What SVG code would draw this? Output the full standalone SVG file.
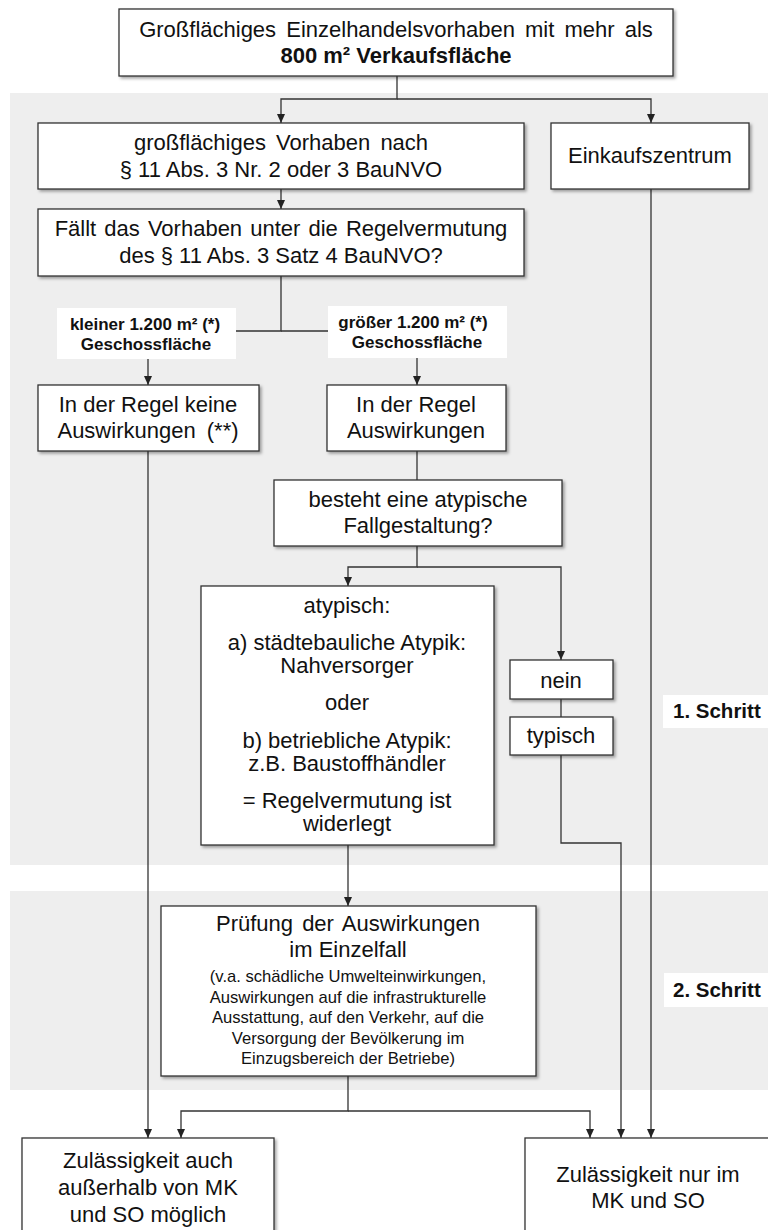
<svg xmlns="http://www.w3.org/2000/svg" width="768" height="1230" viewBox="0 0 768 1230">
<style>
.bg{fill:#eeeeee}
.box{fill:#fff;stroke:#333;stroke-width:1.3;filter:url(#sh)}
.lab{fill:#fff;stroke:none}
.t{font-family:"Liberation Sans",Arial,sans-serif;font-size:22px;fill:#111;text-anchor:middle}
.b{font-weight:bold}
.s{font-size:16.6px}
.l{font-size:17px;font-weight:bold}
.st{font-family:"Liberation Sans",Arial,sans-serif;font-size:20.5px;font-weight:bold;fill:#111}
.c{fill:none;stroke:#333;stroke-width:1.3}
.a{marker-end:url(#ah)}
</style>
<defs>
<marker id="ah" viewBox="0 0 9 8" markerWidth="9" markerHeight="8" refX="9" refY="4" orient="auto" markerUnits="userSpaceOnUse">
<path d="M0,0 L9,4 L0,8 z" fill="#222"/>
</marker>
<filter id="sh" x="-5%" y="-5%" width="115%" height="130%">
<feDropShadow dx="2" dy="2" stdDeviation="1.5" flood-color="#000" flood-opacity="0.35"/>
</filter>
</defs>
<rect width="768" height="1230" fill="#fff"/>
<g id="bands">
<rect class="bg" x="10" y="93" width="758" height="772"/>
<rect class="bg" x="10" y="891" width="758" height="199"/>
</g>
<g id="connectors">
<path class="c a" d="M397,76 V99 H281 V123"/>
<path class="c a" d="M397,99 H651 V123"/>
<path class="c a" d="M281,189 V209"/>
<path class="c a" d="M281,276 V331 H148 V385"/>
<path class="c a" d="M281,331 H417 V385"/>
<path class="c a" d="M148,451 V1138"/>
<path class="c" d="M417,451 V480"/>
<path class="c a" d="M417,546 V567 H348 V586"/>
<path class="c a" d="M417,567 H561 V660"/>
<path class="c" d="M561,699 V717"/>
<path class="c a" d="M561,755 V843 H621 V1138"/>
<path class="c a" d="M348,845 V906"/>
<path class="c a" d="M348,1076 V1111 H181 V1138"/>
<path class="c a" d="M348,1111 H590 V1138"/>
<path class="c a" d="M651,189 V1138"/>
</g>
<g id="n-top">
<rect class="box" x="119" y="9" width="554" height="67"/>
<text class="t" x="396" y="37" word-spacing="4">Großflächiges Einzelhandelsvorhaben mit mehr als</text>
<text class="t b" x="396" y="63">800 m² Verkaufsfläche</text>
</g>
<g id="n-grossflaechig">
<rect class="box" x="38" y="123" width="486" height="66"/>
<text class="t" x="281" y="150" word-spacing="4">großflächiges Vorhaben nach</text>
<text class="t" x="281" y="177">§ 11 Abs. 3 Nr. 2 oder 3 BauNVO</text>
</g>
<g id="n-ekz">
<rect class="box" x="551" y="123" width="198" height="66"/>
<text class="t" x="650" y="163">Einkaufszentrum</text>
</g>
<g id="n-faellt">
<rect class="box" x="38" y="209" width="486" height="67"/>
<text class="t" x="281" y="236" word-spacing="2">Fällt das Vorhaben unter die Regelvermutung</text>
<text class="t" x="281" y="263">des § 11 Abs. 3 Satz 4 BauNVO?</text>
</g>
<g id="l-kleiner">
<rect class="lab" x="57" y="308" width="179" height="51"/>
<text class="t l" x="145" y="330">kleiner 1.200 m² (*)</text>
<text class="t l" x="146" y="350">Geschossfläche</text>
</g>
<g id="l-groesser">
<rect class="lab" x="328" y="306" width="179" height="52"/>
<text class="t l" x="413" y="328">größer 1.200 m² (*)</text>
<text class="t l" x="417" y="348">Geschossfläche</text>
</g>
<g id="n-keine">
<rect class="box" x="38" y="385" width="221" height="66"/>
<text class="t" x="148" y="412">In der Regel keine</text>
<text class="t" x="148" y="438" word-spacing="5">Auswirkungen (**)</text>
</g>
<g id="n-auswirkungen">
<rect class="box" x="327" y="385" width="179" height="66"/>
<text class="t" x="416" y="412">In der Regel</text>
<text class="t" x="416" y="438">Auswirkungen</text>
</g>
<g id="n-besteht">
<rect class="box" x="274" y="480" width="288" height="66"/>
<text class="t" x="418" y="507">besteht eine atypische</text>
<text class="t" x="418" y="533">Fallgestaltung?</text>
</g>
<g id="n-atypisch">
<rect class="box" x="201" y="586" width="293" height="259"/>
<text class="t" x="347" y="613">atypisch:</text>
<text class="t" x="347" y="650">a) städtebauliche Atypik:</text>
<text class="t" x="347" y="673">Nahversorger</text>
<text class="t" x="347" y="710">oder</text>
<text class="t" x="347" y="748">b) betriebliche Atypik:</text>
<text class="t" x="347" y="771">z.B. Baustoffhändler</text>
<text class="t" x="347" y="808">= Regelvermutung ist</text>
<text class="t" x="347" y="831">widerlegt</text>
</g>
<g id="n-nein">
<rect class="box" x="510" y="660" width="103" height="39"/>
<text class="t" x="561" y="688">nein</text>
</g>
<g id="n-typisch">
<rect class="box" x="510" y="717" width="103" height="38"/>
<text class="t" x="561" y="743">typisch</text>
</g>
<g id="n-pruefung">
<rect class="box" x="161" y="906" width="375" height="170"/>
<text class="t" x="348" y="931" word-spacing="3">Prüfung der Auswirkungen</text>
<text class="t" x="348" y="957">im Einzelfall</text>
<text class="t s" x="348" y="982">(v.a. schädliche Umwelteinwirkungen,</text>
<text class="t s" x="348" y="1002.5">Auswirkungen auf die infrastrukturelle</text>
<text class="t s" x="348" y="1023">Ausstattung, auf den Verkehr, auf die</text>
<text class="t s" x="348" y="1043.5">Versorgung der Bevölkerung im</text>
<text class="t s" x="348" y="1064">Einzugsbereich der Betriebe)</text>
</g>
<g id="n-auch">
<rect class="box" x="22" y="1138" width="252" height="110"/>
<text class="t" x="148" y="1168">Zulässigkeit auch</text>
<text class="t" x="148" y="1195">außerhalb von MK</text>
<text class="t" x="148" y="1222">und SO möglich</text>
</g>
<g id="n-nur">
<rect class="box" x="525" y="1138" width="260" height="110"/>
<text class="t" x="648" y="1182">Zulässigkeit nur im</text>
<text class="t" x="648" y="1208">MK und SO</text>
</g>
<g id="l-schritt1">
<rect class="lab" x="663" y="695" width="105" height="33"/>
<text class="st" x="673" y="718">1. Schritt</text>
</g>
<g id="l-schritt2">
<rect class="lab" x="664" y="973" width="104" height="34"/>
<text class="st" x="673" y="997">2. Schritt</text>
</g>
</svg>
